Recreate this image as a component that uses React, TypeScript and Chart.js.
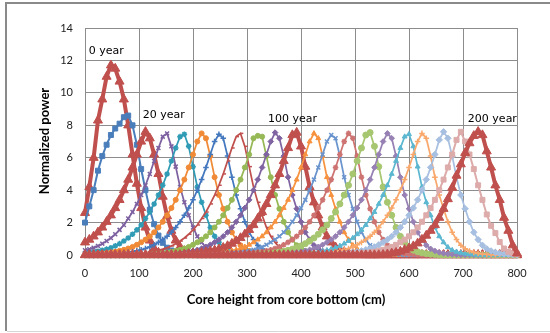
import React, { useEffect, useRef } from "react";
import { Chart, registerables } from "chart.js";

Chart.register(...registerables);

// Core height (cm) sample positions
const heights = [
  0, 8, 16, 24, 32, 40, 48, 56, 64, 72, 80, 88, 96, 104, 112, 120, 128, 136, 144, 152,
  160, 168, 176, 184, 192, 200, 208, 216, 224, 232, 240, 248, 256, 264, 272, 280, 288, 296, 304, 312,
  320, 328, 336, 344, 352, 360, 368, 376, 384, 392, 400, 408, 416, 424, 432, 440, 448, 456, 464, 472,
  480, 488, 496, 504, 512, 520, 528, 536, 544, 552, 560, 568, 576, 584, 592, 600, 608, 616, 624, 632,
  640, 648, 656, 664, 672, 680, 688, 696, 704, 712, 720, 728, 736, 744, 752, 760, 768, 776, 784, 792,
  800,
];

const year0 = [
  2.6, 4.2, 6, 8.3, 9.6, 11, 11.7, 11.5, 10.7, 9.6, 8, 6.2, 4.4, 2.9, 1.7, 0.9, 0.4, 0.15, 0.05,
  0, 0, 0, 0, 0, 0, 0, 0, 0, 0,
  0, 0, 0, 0, 0, 0, 0, 0, 0, 0,
  0, 0, 0, 0, 0, 0, 0, 0, 0, 0,
  0, 0, 0, 0, 0, 0, 0, 0, 0, 0,
  0, 0, 0, 0, 0, 0, 0, 0, 0, 0,
  0, 0, 0, 0, 0, 0, 0, 0, 0, 0,
  0, 0, 0, 0, 0, 0, 0, 0, 0, 0,
  0, 0, 0, 0, 0, 0, 0, 0, 0, 0,
  0, 0,
];
const year10 = [
  2, 3, 4, 5.2, 6.1, 6.8, 7.4, 7.8, 8.1, 8.5, 8.6, 8, 6.8, 5.3, 4, 2.8, 1.9, 1.2, 0.75, 0.45, 0.28, 0.17, 0.1, 0.06, 0.03,
  0, 0, 0, 0, 0, 0, 0, 0, 0, 0,
  0, 0, 0, 0, 0, 0, 0, 0, 0, 0,
  0, 0, 0, 0, 0, 0, 0, 0, 0, 0,
  0, 0, 0, 0, 0, 0, 0, 0, 0, 0,
  0, 0, 0, 0, 0, 0, 0, 0, 0, 0,
  0, 0, 0, 0, 0, 0, 0, 0, 0, 0,
  0, 0, 0, 0, 0, 0, 0, 0, 0, 0,
  0, 0, 0, 0, 0, 0,
];
const year20 = [
  0.78, 0.95, 1.15, 1.4, 1.7, 2.05, 2.45, 2.9, 3.4, 4, 4.65, 5.4, 6.2, 7, 7.6, 7.2, 6.2, 5, 3.6, 2.4, 1.5, 0.9, 0.5, 0.25, 0.12, 0.05,
  0, 0, 0, 0, 0, 0, 0, 0, 0, 0,
  0, 0, 0, 0, 0, 0, 0, 0, 0, 0,
  0, 0, 0, 0, 0, 0, 0, 0, 0, 0,
  0, 0, 0, 0, 0, 0, 0, 0, 0, 0,
  0, 0, 0, 0, 0, 0, 0, 0, 0, 0,
  0, 0, 0, 0, 0, 0, 0, 0, 0, 0,
  0, 0, 0, 0, 0, 0, 0, 0, 0, 0,
  0, 0, 0, 0, 0,
];
const year30 = [
  0.29, 0.36, 0.45, 0.56, 0.7, 0.86, 1.05, 1.28, 1.55, 1.85, 2.25, 2.65, 3.15, 3.7, 4.3, 5, 5.8, 6.6, 7.3,
  7.5, 6.7, 5.45, 4.2, 3.25, 2.45, 1.7, 1.15, 0.78, 0.48, 0.3, 0.2, 0.13, 0.08, 0.05, 0.03,
  0, 0, 0, 0, 0, 0, 0, 0, 0, 0,
  0, 0, 0, 0, 0, 0, 0, 0, 0, 0,
  0, 0, 0, 0, 0, 0, 0, 0, 0, 0,
  0, 0, 0, 0, 0, 0, 0, 0, 0, 0,
  0, 0, 0, 0, 0, 0, 0, 0, 0, 0,
  0, 0, 0, 0, 0, 0, 0, 0, 0, 0,
  0, 0, 0, 0, 0, 0,
];
const year40 = [
  0.11, 0.14, 0.18, 0.23, 0.29, 0.36, 0.45, 0.56, 0.7, 0.86, 1.05, 1.28, 1.55, 1.85, 2.25, 2.65, 3.15, 3.7, 4.3, 5, 5.8, 6.6, 7.3,
  7.45, 6.7, 5.45, 4.2, 3.25, 2.45, 1.7, 1.15, 0.78, 0.48, 0.3, 0.2, 0.13, 0.08, 0.05, 0.03,
  0, 0, 0, 0, 0, 0, 0, 0, 0, 0,
  0, 0, 0, 0, 0, 0, 0, 0, 0, 0,
  0, 0, 0, 0, 0, 0, 0, 0, 0, 0,
  0, 0, 0, 0, 0, 0, 0, 0, 0, 0,
  0, 0, 0, 0, 0, 0, 0, 0, 0, 0,
  0, 0, 0, 0, 0, 0, 0, 0, 0, 0,
  0, 0,
];
const year50 = [
  0,
  0.05, 0.06, 0.08, 0.1, 0.12, 0.16, 0.2, 0.26, 0.32, 0.4, 0.5, 0.63, 0.78, 0.95, 1.15, 1.4, 1.7, 2.05, 2.45, 2.9, 3.4, 4, 4.65, 5.4, 6.2, 7,
  7.5,
  7.2, 6.1, 4.8, 3.7, 2.85, 2.05, 1.4, 0.95, 0.6, 0.38, 0.25, 0.16, 0.1, 0.06, 0.04, 0.02,
  0, 0, 0, 0, 0, 0, 0, 0, 0, 0,
  0, 0, 0, 0, 0, 0, 0, 0, 0, 0,
  0, 0, 0, 0, 0, 0, 0, 0, 0, 0,
  0, 0, 0, 0, 0, 0, 0, 0, 0, 0,
  0, 0, 0, 0, 0, 0, 0, 0, 0, 0,
  0, 0, 0, 0, 0, 0, 0,
];
const year60 = [
  0, 0, 0, 0, 0,
  0.05, 0.06, 0.08, 0.1, 0.12, 0.16, 0.2, 0.26, 0.32, 0.4, 0.5, 0.63, 0.78, 0.95, 1.15, 1.4, 1.7, 2.05, 2.45, 2.9, 3.4, 4, 4.65, 5.4, 6.2, 7,
  7.45,
  7.2, 6.1, 4.8, 3.7, 2.85, 2.05, 1.4, 0.95, 0.6, 0.38, 0.25, 0.16, 0.1, 0.06, 0.04, 0.02,
  0, 0, 0, 0, 0, 0, 0, 0, 0, 0,
  0, 0, 0, 0, 0, 0, 0, 0, 0, 0,
  0, 0, 0, 0, 0, 0, 0, 0, 0, 0,
  0, 0, 0, 0, 0, 0, 0, 0, 0, 0,
  0, 0, 0, 0, 0, 0, 0, 0, 0, 0,
  0, 0, 0,
];
const year70 = [
  0, 0, 0, 0, 0, 0, 0, 0, 0, 0,
  0.05, 0.07, 0.09, 0.11, 0.14, 0.18, 0.23, 0.29, 0.36, 0.45, 0.56, 0.7, 0.86, 1.05, 1.28, 1.55, 1.85, 2.25, 2.65, 3.15, 3.7, 4.3, 5, 5.8, 6.6, 7.3,
  7.5, 6.7, 5.45, 4.2, 3.25, 2.45, 1.7, 1.15, 0.78, 0.48, 0.3, 0.2, 0.13, 0.08, 0.05, 0.03,
  0, 0, 0, 0, 0, 0, 0, 0, 0, 0,
  0, 0, 0, 0, 0, 0, 0, 0, 0, 0,
  0, 0, 0, 0, 0, 0, 0, 0, 0, 0,
  0, 0, 0, 0, 0, 0, 0, 0, 0, 0,
  0, 0, 0, 0, 0, 0, 0, 0, 0,
];
const year80 = [
  0, 0, 0, 0, 0, 0, 0, 0, 0, 0, 0, 0, 0, 0,
  0.05, 0.06, 0.08, 0.1, 0.12, 0.16, 0.2, 0.26, 0.32, 0.4, 0.5, 0.63, 0.78, 0.95, 1.15, 1.4, 1.7, 2.05, 2.45, 2.9, 3.4, 4, 4.65, 5.4, 6.2, 7.2,
  7.35,
  7.3, 6.1, 4.8, 3.7, 2.85, 2.05, 1.4, 0.95, 0.6, 0.38, 0.25, 0.16, 0.1, 0.06, 0.04, 0.02,
  0, 0, 0, 0, 0, 0, 0, 0, 0, 0,
  0, 0, 0, 0, 0, 0, 0, 0, 0, 0,
  0, 0, 0, 0, 0, 0, 0, 0, 0, 0,
  0, 0, 0, 0, 0, 0, 0, 0, 0, 0,
  0, 0, 0, 0,
];
const year90 = [
  0, 0, 0, 0, 0, 0, 0, 0, 0, 0, 0, 0, 0, 0, 0, 0, 0, 0,
  0.05, 0.06, 0.08, 0.1, 0.12, 0.16, 0.2, 0.26, 0.32, 0.4, 0.5, 0.63, 0.78, 0.95, 1.15, 1.4, 1.7, 2.05, 2.45, 2.9, 3.4, 4, 4.65, 5.4, 6.2, 7,
  7.55,
  7.2, 6.1, 4.8, 3.7, 2.85, 2.05, 1.4, 0.95, 0.6, 0.38, 0.25, 0.16, 0.1, 0.06, 0.04, 0.02,
  0, 0, 0, 0, 0, 0, 0, 0, 0, 0,
  0, 0, 0, 0, 0, 0, 0, 0, 0, 0,
  0, 0, 0, 0, 0, 0, 0, 0, 0, 0,
  0, 0, 0, 0, 0, 0, 0, 0, 0, 0,
];
const year100 = [
  0, 0, 0, 0, 0, 0, 0, 0, 0, 0, 0, 0, 0, 0, 0, 0, 0, 0, 0, 0, 0, 0, 0,
  0.05, 0.07, 0.09, 0.11, 0.14, 0.18, 0.23, 0.29, 0.36, 0.45, 0.56, 0.7, 0.86, 1.05, 1.28, 1.55, 1.85, 2.25, 2.65, 3.15, 3.7, 4.3, 5, 5.8, 6.6, 7.4,
  7.55, 6.7, 5.45, 4.2, 3.25, 2.45, 1.7, 1.15, 0.78, 0.48, 0.3, 0.2, 0.13, 0.08, 0.05, 0.03,
  0, 0, 0, 0, 0, 0, 0, 0, 0, 0,
  0, 0, 0, 0, 0, 0, 0, 0, 0, 0,
  0, 0, 0, 0, 0, 0, 0, 0, 0, 0,
  0, 0, 0, 0, 0, 0,
];
const year110 = [
  0, 0, 0, 0, 0, 0, 0, 0, 0, 0, 0, 0, 0, 0, 0, 0, 0, 0, 0, 0, 0, 0, 0, 0, 0, 0, 0,
  0.05, 0.06, 0.08, 0.1, 0.12, 0.16, 0.2, 0.26, 0.32, 0.4, 0.5, 0.63, 0.78, 0.95, 1.15, 1.4, 1.7, 2.05, 2.45, 2.9, 3.4, 4, 4.65, 5.4, 6.2, 7,
  7.5,
  7.2, 6.1, 4.8, 3.7, 2.85, 2.05, 1.4, 0.95, 0.6, 0.38, 0.25, 0.16, 0.1, 0.06, 0.04, 0.02,
  0, 0, 0, 0, 0, 0, 0, 0, 0, 0,
  0, 0, 0, 0, 0, 0, 0, 0, 0, 0,
  0, 0, 0, 0, 0, 0, 0, 0, 0, 0,
  0,
];
const year120 = [
  0, 0, 0, 0, 0, 0, 0, 0, 0, 0, 0, 0, 0, 0, 0, 0, 0, 0, 0, 0,
  0, 0, 0, 0, 0, 0, 0, 0, 0, 0, 0,
  0.05, 0.06, 0.08, 0.1, 0.12, 0.16, 0.2, 0.26, 0.32, 0.4, 0.5, 0.63, 0.78, 0.95, 1.15, 1.4, 1.7, 2.05, 2.45, 2.9, 3.4, 4, 4.65, 5.4, 6.2, 7,
  7.4,
  7.2, 6.1, 4.8, 3.7, 2.85, 2.05, 1.4, 0.95, 0.6, 0.38, 0.25, 0.16, 0.1, 0.06, 0.04, 0.02,
  0, 0, 0, 0, 0, 0, 0, 0, 0, 0,
  0, 0, 0, 0, 0, 0, 0, 0, 0, 0,
  0, 0, 0, 0, 0, 0, 0,
];
const year130 = [
  0, 0, 0, 0, 0, 0, 0, 0, 0, 0, 0, 0, 0, 0, 0, 0, 0, 0, 0, 0,
  0, 0, 0, 0, 0, 0, 0, 0, 0, 0, 0, 0, 0, 0, 0,
  0.05, 0.06, 0.08, 0.1, 0.12, 0.16, 0.2, 0.26, 0.32, 0.4, 0.5, 0.63, 0.78, 0.95, 1.15, 1.4, 1.7, 2.05, 2.45, 2.9, 3.4, 4, 4.65, 5.4, 6.2, 7,
  7.5,
  7.2, 6.1, 4.8, 3.7, 2.85, 2.05, 1.4, 0.95, 0.6, 0.38, 0.25, 0.16, 0.1, 0.06, 0.04, 0.02,
  0, 0, 0, 0, 0, 0, 0, 0, 0, 0,
  0, 0, 0, 0, 0, 0, 0, 0, 0, 0,
  0, 0, 0,
];
const year140 = [
  0, 0, 0, 0, 0, 0, 0, 0, 0, 0, 0, 0, 0, 0, 0, 0, 0, 0, 0, 0,
  0, 0, 0, 0, 0, 0, 0, 0, 0, 0, 0, 0, 0, 0, 0, 0, 0, 0, 0, 0,
  0.05, 0.07, 0.09, 0.11, 0.14, 0.18, 0.23, 0.29, 0.36, 0.45, 0.56, 0.7, 0.86, 1.05, 1.28, 1.55, 1.85, 2.25, 2.65, 3.15, 3.7, 4.3, 5, 5.8, 6.6, 7.4,
  7.55, 6.7, 5.45, 4.2, 3.25, 2.45, 1.7, 1.15, 0.78, 0.48, 0.3, 0.2, 0.13, 0.08, 0.05, 0.03,
  0, 0, 0, 0, 0, 0, 0, 0, 0, 0,
  0, 0, 0, 0, 0, 0, 0, 0, 0,
];
const year150 = [
  0, 0, 0, 0, 0, 0, 0, 0, 0, 0, 0, 0, 0, 0, 0, 0, 0, 0, 0, 0,
  0, 0, 0, 0, 0, 0, 0, 0, 0, 0, 0, 0, 0, 0, 0, 0, 0, 0, 0, 0,
  0, 0, 0, 0,
  0.05, 0.06, 0.08, 0.1, 0.12, 0.16, 0.2, 0.26, 0.32, 0.4, 0.5, 0.63, 0.78, 0.95, 1.15, 1.4, 1.7, 2.05, 2.45, 2.9, 3.4, 4, 4.65, 5.4, 6.2, 7,
  7.5,
  7.2, 6.1, 4.8, 3.7, 2.85, 2.05, 1.4, 0.95, 0.6, 0.38, 0.25, 0.16, 0.1, 0.06, 0.04, 0.02,
  0, 0, 0, 0, 0, 0, 0, 0, 0, 0,
  0, 0, 0, 0,
];
const year160 = [
  0, 0, 0, 0, 0, 0, 0, 0, 0, 0, 0, 0, 0, 0, 0, 0, 0, 0, 0, 0,
  0, 0, 0, 0, 0, 0, 0, 0, 0, 0, 0, 0, 0, 0, 0, 0, 0, 0, 0, 0,
  0, 0, 0, 0, 0, 0, 0, 0, 0,
  0.05, 0.07, 0.09, 0.11, 0.14, 0.18, 0.23, 0.29, 0.36, 0.45, 0.56, 0.7, 0.86, 1.05, 1.28, 1.55, 1.85, 2.25, 2.65, 3.15, 3.7, 4.3, 5, 5.8, 6.6, 7.3,
  7.45, 6.7, 5.45, 4.2, 3.25, 2.45, 1.7, 1.15, 0.78, 0.48, 0.3, 0.2, 0.13, 0.08, 0.05, 0.03,
  0, 0, 0, 0, 0, 0, 0, 0, 0, 0,
];
const year170 = [
  0, 0, 0, 0, 0, 0, 0, 0, 0, 0, 0, 0, 0, 0, 0, 0, 0, 0, 0, 0,
  0, 0, 0, 0, 0, 0, 0, 0, 0, 0, 0, 0, 0, 0, 0, 0, 0, 0, 0, 0,
  0, 0, 0, 0, 0, 0, 0, 0, 0, 0, 0, 0,
  0.05, 0.06, 0.08, 0.1, 0.12, 0.16, 0.2, 0.26, 0.32, 0.4, 0.5, 0.63, 0.78, 0.95, 1.15, 1.4, 1.7, 2.05, 2.45, 2.9, 3.4, 4, 4.65, 5.4, 6.2, 7,
  7.5,
  7.2, 6.1, 4.8, 3.7, 2.85, 2.05, 1.4, 0.95, 0.6, 0.38, 0.25, 0.16, 0.1, 0.06, 0.04, 0.02,
  0, 0, 0, 0, 0, 0,
];
const year180 = [
  0, 0, 0, 0, 0, 0, 0, 0, 0, 0, 0, 0, 0, 0, 0, 0, 0, 0, 0, 0,
  0, 0, 0, 0, 0, 0, 0, 0, 0, 0, 0, 0, 0, 0, 0, 0, 0, 0, 0, 0,
  0, 0, 0, 0, 0, 0, 0, 0, 0, 0, 0, 0, 0, 0, 0, 0, 0,
  0.05, 0.06, 0.08, 0.1, 0.12, 0.16, 0.2, 0.26, 0.32, 0.4, 0.5, 0.63, 0.78, 0.95, 1.15, 1.4, 1.7, 2.05, 2.45, 2.9, 3.4, 4, 4.65, 5.4, 6.2, 7.1,
  7.6,
  7.2, 6.1, 4.8, 3.7, 2.85, 2.05, 1.4, 0.95, 0.6, 0.38, 0.25, 0.16, 0.1, 0.06, 0.04, 0.02,
  0,
];
const year190 = [
  0, 0, 0, 0, 0, 0, 0, 0, 0, 0, 0, 0, 0, 0, 0, 0, 0, 0, 0, 0,
  0, 0, 0, 0, 0, 0, 0, 0, 0, 0, 0, 0, 0, 0, 0, 0, 0, 0, 0, 0,
  0, 0, 0, 0, 0, 0, 0, 0, 0, 0, 0, 0, 0, 0, 0, 0, 0, 0, 0, 0,
  0,
  0.05, 0.06, 0.08, 0.1, 0.12, 0.16, 0.2, 0.26, 0.32, 0.4, 0.5, 0.63, 0.78, 0.95, 1.15, 1.4, 1.7, 2.05, 2.45, 2.9, 3.4, 4, 4.65, 5.4, 6.2, 7.1,
  7.6, 7, 6.2, 5.3, 4.3, 3.4, 2.5, 1.8, 1.35, 0.8, 0.4, 0.2, 0.1, 0.05,
];
const year200 = [
  0, 0, 0, 0, 0, 0, 0, 0, 0, 0, 0, 0, 0, 0, 0, 0, 0, 0, 0, 0,
  0, 0, 0, 0, 0, 0, 0, 0, 0, 0, 0, 0, 0, 0, 0, 0, 0, 0, 0, 0,
  0, 0, 0, 0, 0, 0, 0, 0, 0, 0, 0, 0, 0, 0, 0, 0, 0, 0, 0, 0,
  0, 0, 0, 0, 0, 0, 0, 0, 0,
  0.02, 0.05, 0.1, 0.15, 0.22, 0.32, 0.42, 0.55, 0.72, 0.95, 1.2, 1.5, 1.85, 2.3, 2.85, 3.45,
  4.15, 4.9, 5.6, 6.3, 6.9, 7.35, 7.6, 7.4, 6.4, 5.4, 4.3, 3.4, 2.3, 1.5, 0.6, 0.1,
];

const seriesYears = [0, 10, 20, 30, 40, 50, 60, 70, 80, 90, 100, 110, 120, 130, 140, 150, 160, 170, 180, 190, 200];
const seriesValues = [
  year0, year10, year20, year30, year40, year50, year60, year70, year80, year90, year100,
  year110, year120, year130, year140, year150, year160, year170, year180, year190, year200,
];

// In-plot annotation labels (data coordinates of the label's left-middle point)
const noteTexts = ["0 year", "20 year", "100 year", "200 year"];
const noteX = [7, 107, 339, 709];
const noteY = [12.55, 8.6, 8.4, 8.4];

const xTitle = "Core height from core bottom (cm)";
const yTitle = "Normalized power";

const RED = "#C0504D";
const seriesStyles = [
  { color: RED, marker: "triangle", radius: 5.2, width: 4, pbw: 1 },
  { color: "#4A7EBB", marker: "rect", radius: 3.5, width: 2, pbw: 1 },
  { color: RED, marker: "triangle", radius: 5.2, width: 4, pbw: 1 },
  { color: "#7D60A0", marker: "crossRot", radius: 2.8, width: 1.75, pbw: 1.5 },
  { color: "#2F9BB5", marker: "star", radius: 2.8, width: 1.75, pbw: 1.5 },
  { color: "#F08A36", marker: "circle", radius: 2.5, width: 1.75, pbw: 1 },
  { color: "#4378BE", marker: "cross", radius: 2.8, width: 1.75, pbw: 1.5 },
  { color: "#C0504D", marker: "dash", radius: 2.8, width: 1.75, pbw: 1.5 },
  { color: "#96B956", marker: "circle", radius: 2.5, width: 1.75, pbw: 1 },
  { color: "#8064A2", marker: "rectRot", radius: 2.8, width: 1.75, pbw: 1 },
  { color: RED, marker: "triangle", radius: 5.2, width: 4, pbw: 1 },
  { color: "#F7923F", marker: "triangle", radius: 2.8, width: 1.75, pbw: 1 },
  { color: "#6A94CD", marker: "crossRot", radius: 2.8, width: 1.75, pbw: 1.5 },
  { color: "#CD7371", marker: "star", radius: 2.8, width: 1.75, pbw: 1.5 },
  { color: "#A6C66F", marker: "circle", radius: 3, width: 1.75, pbw: 1 },
  { color: "#9781B4", marker: "rectRot", radius: 2.8, width: 1.75, pbw: 1 },
  { color: "#5CB7D0", marker: "triangle", radius: 2.8, width: 1.75, pbw: 1 },
  { color: "#F9A86C", marker: "cross", radius: 2.8, width: 1.75, pbw: 1.5 },
  { color: "#A7BFE0", marker: "rectRot", radius: 3.2, width: 1.75, pbw: 1 },
  { color: "#DCABAA", marker: "rect", radius: 3.5, width: 2, pbw: 1 },
  { color: RED, marker: "triangle", radius: 5.2, width: 4, pbw: 1 },
];

export default function App() {
  const ref = useRef<HTMLCanvasElement | null>(null);

  useEffect(() => {
    document.body.style.margin = "0";
    const canvas = ref.current;
    if (!canvas) return;

    const datasets = seriesValues.map((vals, k) => {
      const s = seriesStyles[k];
      return {
        label: `${seriesYears[k]} year`,
        data: heights.map((h, i) => ({ x: h, y: vals[i] })),
        borderColor: s.color,
        backgroundColor: s.color,
        borderWidth: s.width,
        pointStyle: s.marker,
        pointRadius: s.radius,
        pointBackgroundColor: s.color,
        pointBorderColor: s.color,
        pointBorderWidth: s.pbw,
        pointHoverRadius: s.radius,
        tension: 0,
        fill: false,
        clip: false,
        order: seriesValues.length - k,
      };
    });

    const frame = {
      id: "frame",
      beforeDraw(chart: any) {
        const ctx = chart.ctx;
        ctx.save();
        ctx.fillStyle = "#ffffff";
        ctx.fillRect(0, 0, chart.width, chart.height);
        ctx.strokeStyle = "#8a8a8a";
        ctx.lineWidth = 2;
        ctx.beginPath();
        ctx.moveTo(6, 331);
        ctx.lineTo(6, 3);
        ctx.lineTo(550, 3);
        ctx.stroke();
        ctx.strokeStyle = "#d6d6d6";
        ctx.lineWidth = 1;
        ctx.beginPath();
        ctx.moveTo(7, 331.5);
        ctx.lineTo(550, 331.5);
        ctx.stroke();
        ctx.restore();
      },
      afterDraw(chart: any) {
        const ctx = chart.ctx;
        const xs = chart.scales.x;
        const ys = chart.scales.y;
        ctx.save();
        ctx.fillStyle = "#000000";
        ctx.font = 'bold 13px Lato';
        ctx.textAlign = "center";
        ctx.textBaseline = "middle";
        ctx.fillText(xTitle, 286, 300);
        ctx.save();
        ctx.translate(45, 141);
        ctx.rotate(-Math.PI / 2);
        ctx.fillText(yTitle, 0, 0);
        ctx.restore();
        ctx.font = '11px "DejaVu Sans"';
        ctx.textAlign = "left";
        noteTexts.forEach((t, k) => {
          ctx.fillText(t, xs.getPixelForValue(noteX[k]), ys.getPixelForValue(noteY[k]));
        });
        ctx.restore();
      },
    };

    const gridColor = "#8c8c8c";
    const chart = new Chart(canvas, {
      type: "line",
      data: { datasets: datasets as any },
      options: {
        responsive: false,
        animation: false,
        devicePixelRatio: 1,
        layout: { padding: { left: 0, right: 33, top: 28, bottom: 0 } },
        plugins: { legend: { display: false }, tooltip: { enabled: false } },
        scales: {
          x: {
            type: "linear",
            min: 0,
            max: 800,
            ticks: { stepSize: 100, padding: 12, color: "#222", font: { family: "Lato", size: 11 }, maxRotation: 0 },
            grid: { color: gridColor, drawTicks: false },
            border: { color: gridColor },
            afterFit(s: any) {
              s.height = 78;
            },
          },
          y: {
            min: 0,
            max: 14,
            ticks: { stepSize: 2, padding: 12, color: "#222", font: { family: "Lato", size: 11 } },
            grid: { color: gridColor, drawTicks: false },
            border: { color: gridColor },
            afterFit(s: any) {
              s.width = 85;
            },
          },
        },
      } as any,
      plugins: [frame],
    });

    return () => chart.destroy();
  }, []);

  return <canvas ref={ref} width={550} height={333} style={{ display: "block" }} />;
}
